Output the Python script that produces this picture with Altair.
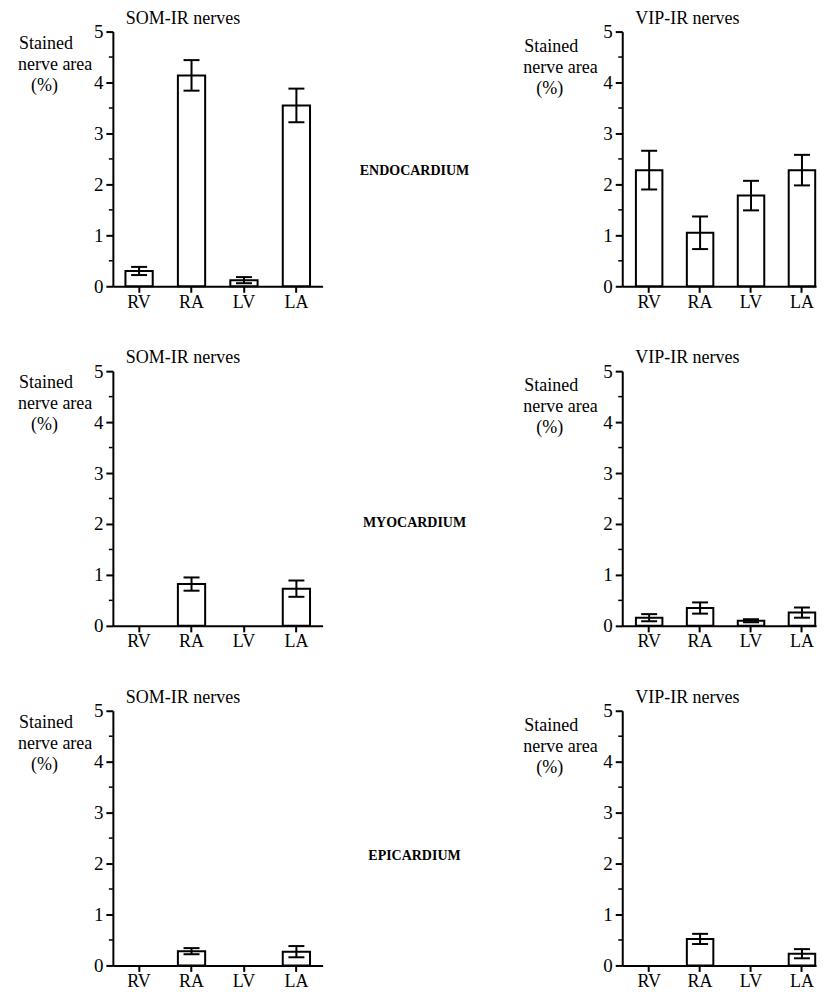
import altair as alt
import pandas as pd

chambers = ["RV", "RA", "LV", "LA"]

som_endo_mean = [0.30, 4.14, 0.12, 3.55]
som_endo_sem = [0.08, 0.30, 0.06, 0.33]
vip_endo_mean = [2.28, 1.05, 1.78, 2.28]
vip_endo_sem = [0.38, 0.32, 0.29, 0.30]

som_myo_mean = [None, 0.82, None, 0.73]
som_myo_sem = [None, 0.13, None, 0.16]
vip_myo_mean = [0.16, 0.35, 0.10, 0.26]
vip_myo_sem = [0.07, 0.11, 0.03, 0.10]

som_epi_mean = [None, 0.28, None, 0.27]
som_epi_sem = [None, 0.06, None, 0.11]
vip_epi_mean = [None, 0.52, None, 0.23]
vip_epi_sem = [None, 0.10, None, 0.09]

sections = ["ENDOCARDIUM", "MYOCARDIUM", "EPICARDIUM"]
panel_titles = ["SOM-IR nerves", "VIP-IR nerves"]
y_ticks = [0, 1, 2, 3, 4, 5]
minor_ticks = [0.5, 1.5, 2.5, 3.5, 4.5]
y_title_lines = ["Stained", "nerve area", "(%)"]

FONT = "Liberation Serif"
H = 255


def txt(s, x, y, size=18, weight="normal", align="left", baseline="top"):
    return alt.Chart(pd.DataFrame({"t": [s]})).mark_text(
        font=FONT, fontSize=size, fontWeight=weight, color="black",
        align=align, baseline=baseline,
    ).encode(text="t:N", x=alt.value(x), y=alt.value(y))


def panel(title, means, sems, width, pad_outer, align, ytitle_x, ytitle_y,
          section=None, sec_y=0):
    df = pd.DataFrame({"chamber": chambers, "mean": means, "sem": sems}).dropna()
    df["lo"] = df["mean"] - df["sem"]
    df["hi"] = df["mean"] + df["sem"]

    xscale = alt.Scale(domain=chambers, paddingInner=0.48, paddingOuter=pad_outer, align=align)
    xaxis = alt.Axis(title=None, labelAngle=0, labelPadding=1, tickSize=6, labelFontSize=18)
    yscale = alt.Scale(domain=[0, 5], nice=False, zero=True)
    yaxis = alt.Axis(values=y_ticks, title=None, tickSize=7, labelPadding=3, labelFontSize=19)
    X = alt.X("chamber:N", sort=chambers, scale=xscale, axis=xaxis)

    base = alt.Chart(df)
    bars = base.mark_bar(fill="white", stroke="black", strokeWidth=2).encode(
        x=X, y=alt.Y("mean:Q", scale=yscale, axis=yaxis)
    )
    rule = base.mark_rule(color="black", strokeWidth=2).encode(
        x=X, y=alt.Y("lo:Q", scale=yscale, axis=yaxis), y2="hi:Q"
    )
    cap_lo = base.mark_tick(color="black", size=16, thickness=2, opacity=1).encode(
        x=X, y=alt.Y("lo:Q", scale=yscale, axis=yaxis)
    )
    cap_hi = base.mark_tick(color="black", size=16, thickness=2, opacity=1).encode(
        x=X, y=alt.Y("hi:Q", scale=yscale, axis=yaxis)
    )
    minor = alt.Chart(pd.DataFrame({"v": minor_ticks})).mark_rule(
        color="black", strokeWidth=1.5
    ).encode(
        y=alt.Y("v:Q", scale=yscale, axis=yaxis), x=alt.value(0), x2=alt.value(-4)
    )
    layers = [bars, rule, cap_lo, cap_hi, minor]
    # panel title
    layers.append(txt(title, 13, -8, baseline="alphabetic"))
    # three-line y-axis title
    for i, (line, dx) in enumerate(zip(y_title_lines, [1, 0, 13])):
        layers.append(txt(line, ytitle_x + dx, ytitle_y + 21 * i))
    if section is not None:
        layers.append(txt(section, -208, sec_y, size=14, weight="bold",
                          align="center", baseline="middle"))
    return alt.layer(*layers).properties(width=width, height=H)


data = [
    (som_endo_mean, som_endo_sem, vip_endo_mean, vip_endo_sem, 140),
    (som_myo_mean, som_myo_sem, vip_myo_mean, vip_myo_sem, 152),
    (som_epi_mean, som_epi_sem, vip_epi_mean, vip_epi_sem, 145),
]

panels = []
for sec, (sm, ss, vm, vs, sy) in zip(sections, data):
    panels.append(panel(panel_titles[0], sm, ss, 210, 0.24, 0.5, -95, 3))
    panels.append(panel(panel_titles[1], vm, vs, 194, 0.142, 0.945, -99, 6,
                        section=sec, sec_y=sy))

chart = alt.concat(
    *panels, columns=2, spacing={"row": 85, "column": 300}, bounds="flush"
).properties(
    padding={"left": 10, "top": 1, "right": 0, "bottom": 0},
    background="white",
).configure_view(stroke=None).configure_axis(
    grid=False, domainColor="black", domainWidth=2, tickColor="black", tickWidth=2,
    labelFont=FONT, labelFontSize=18, labelColor="black",
)

chart.save("out.html", embed_options={"renderer": "svg", "actions": False})
